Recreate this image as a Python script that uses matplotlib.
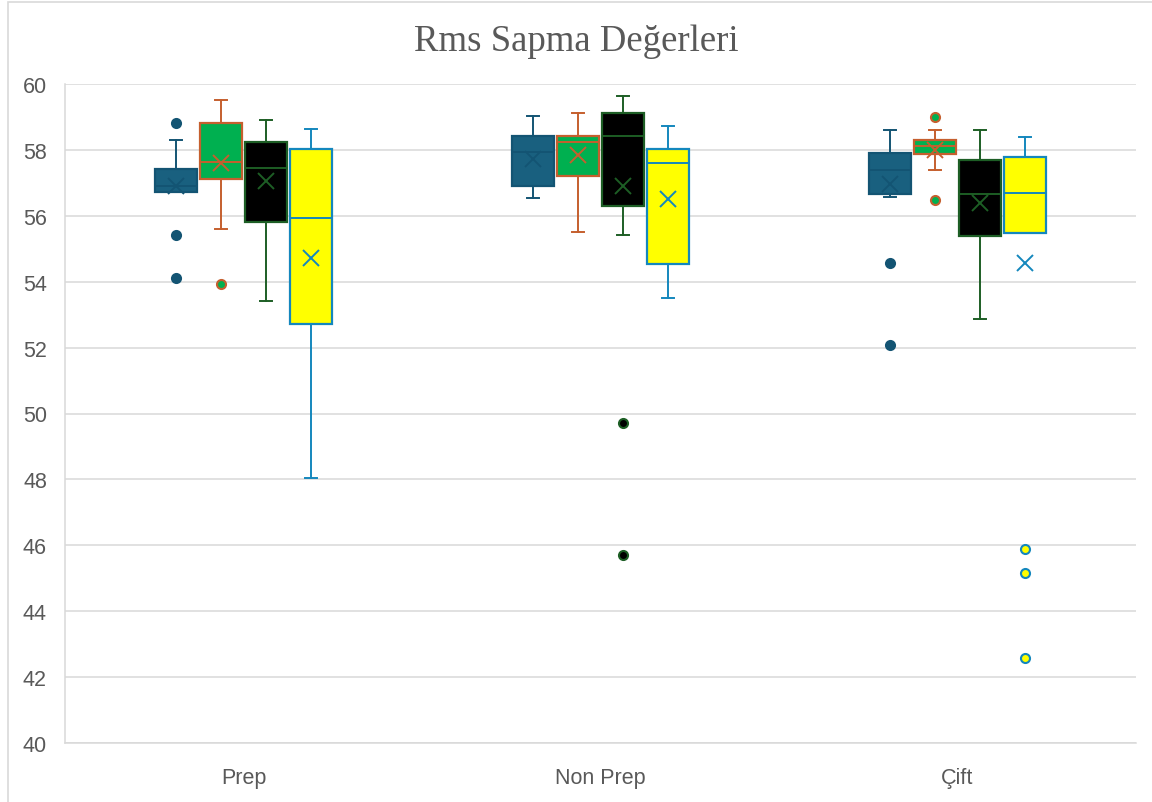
import matplotlib
matplotlib.use("Agg")
import matplotlib.pyplot as plt
from matplotlib.patches import Rectangle
import numpy as np

# categories and series
categories = ['Prep', 'Non Prep', 'Çift']

q1 = [[56.71, 56.90, 56.67],
      [57.12, 57.22, 57.89],
      [55.80, 56.31, 55.38],
      [52.72, 54.53, 55.49]]
medians = [[56.91, 57.95, 57.40],
           [57.62, 58.23, 58.11],
           [57.44, 58.41, 56.67],
           [55.92, 57.61, 56.70]]
q3 = [[57.42, 58.42, 57.90],
      [58.83, 58.41, 58.29],
      [58.23, 59.12, 57.69],
      [58.02, 58.02, 57.78]]
whis_lo = [[56.71, 56.53, 56.58],
           [55.61, 55.52, 57.40],
           [53.42, 55.43, 52.88],
           [48.03, 53.51, 55.49]]
whis_hi = [[58.31, 59.02, 58.61],
           [59.52, 59.12, 58.61],
           [58.92, 59.63, 58.61],
           [58.62, 58.72, 58.39]]
means = [[56.90, 57.72, 56.96],
         [57.60, 57.85, 58.00],
         [57.05, 56.91, 56.39],
         [54.71, 56.51, 54.58]]
outliers = [[[58.83, 55.43, 54.11], [], [54.58, 52.08]],
            [[53.92], [], [59.0, 56.48]],
            [[], [49.72, 45.72], []],
            [[], [], [45.88, 45.17, 42.57]]]

fills = ['#19607f', '#00b050', '#000000', '#ffff00']
edges = ['#135473', '#c55f2e', '#1d5e25', '#1487bd']

grey = '#595959'
plt.rcParams['font.family'] = ['Liberation Sans', 'DejaVu Sans']

fig = plt.figure(figsize=(11.52, 8.03), dpi=100)
ax = fig.add_axes([65 / 1152, 1 - 744 / 803, (1136 - 65) / 1152, (744 - 85) / 803])

# outer chart frame (only left and top edges fall inside the picture)
fig.patches.append(Rectangle((7.5 / 1152, -0.05), 1.2, 1.05 - 3 / 803,
                             transform=fig.transFigure, fill=False,
                             edgecolor='#d9d9d9', linewidth=1.2))

step = 0.126
width = 0.116
for s in range(4):
    stats = []
    for c in range(len(categories)):
        stats.append(dict(q1=q1[s][c], med=medians[s][c], q3=q3[s][c],
                          whislo=whis_lo[s][c], whishi=whis_hi[s][c],
                          mean=means[s][c], fliers=outliers[s][c]))
    pos = np.arange(len(categories)) + (s - 1.5) * step
    ec = edges[s]
    ax.bxp(stats, positions=pos, widths=width, capwidths=0.034,
           patch_artist=True, showmeans=True, manage_ticks=False,
           boxprops=dict(facecolor=fills[s], edgecolor=ec, linewidth=1.6),
           medianprops=dict(color=ec, linewidth=1.4),
           whiskerprops=dict(color=ec, linewidth=1.4),
           capprops=dict(color=ec, linewidth=1.4),
           meanprops=dict(marker='x', markeredgecolor=ec, markersize=11,
                          markeredgewidth=1.4),
           flierprops=dict(marker='o', markerfacecolor=fills[s] if s else ec,
                           markeredgecolor=ec, markersize=6.5,
                           markeredgewidth=1.5),
           zorder=3)

ax.set_xlim(-0.5, 2.5)
ax.set_ylim(40, 60)
ax.set_yticks(np.arange(40, 61, 2))
ax.set_xticks(range(len(categories)))
ax.set_xticklabels(categories)
ax.grid(axis='y', color='#d9d9d9', linewidth=1.1, zorder=0)
ax.set_axisbelow(True)
for side in ['top', 'right']:
    ax.spines[side].set_visible(False)
ax.spines['left'].set_color('#d9d9d9')
ax.spines['bottom'].set_color('#d9d9d9')
ax.spines['left'].set_linewidth(1.1)
ax.spines['bottom'].set_linewidth(1.1)
ax.tick_params(axis='y', length=0, pad=13, labelsize=15.5, labelcolor=grey)
ax.tick_params(axis='x', length=0, pad=17, labelsize=15.5, labelcolor=grey)

fig.text(0.5, 1 - 42 / 803, 'Rms Sapma Değerleri', ha='center', va='center',
         fontsize=26.5, color=grey, family=['Liberation Serif', 'DejaVu Serif'])

fig.savefig('out.png', dpi=100)
